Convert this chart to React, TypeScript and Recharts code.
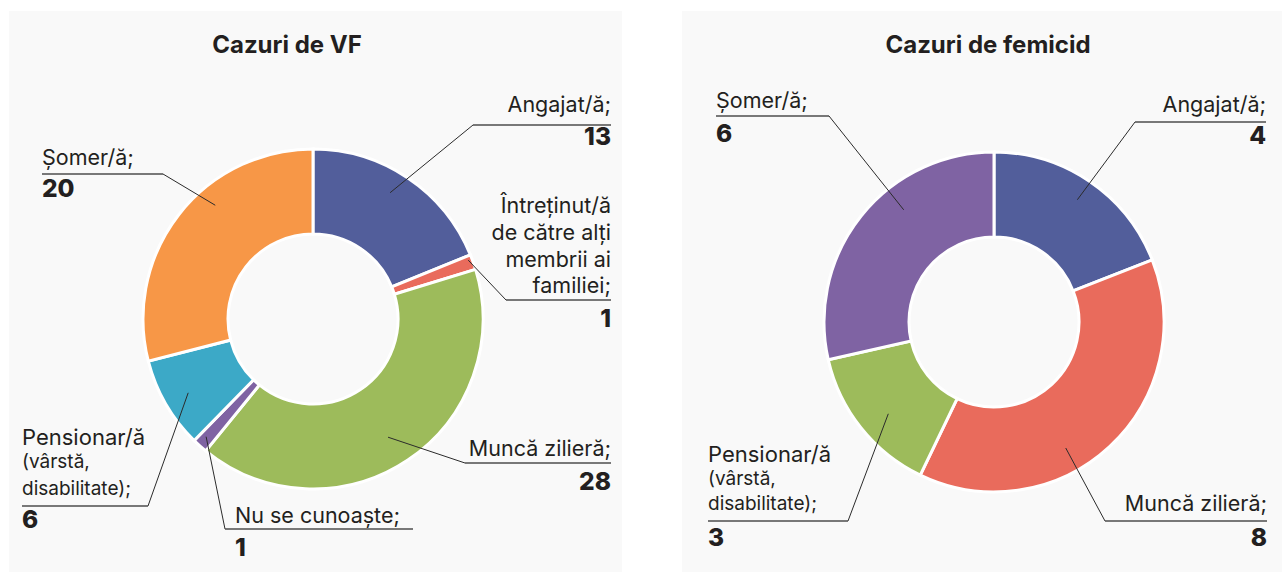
import React from 'react';
import { PieChart, Pie, Cell } from 'recharts';

// ---------- data ----------
const vfCategories = [
  'Angajat/ă',
  'Întreținut/ă de către alți membrii ai familiei',
  'Muncă zilieră',
  'Nu se cunoaște',
  'Pensionar/ă (vârstă, disabilitate)',
  'Șomer/ă',
];
const vfValues = [13, 1, 28, 1, 6, 20];
const vfLabelText = [
  ['Angajat/ă;'],
  ['Întreținut/ă', 'de către alți', 'membrii ai', 'familiei;'],
  ['Muncă zilieră;'],
  ['Nu se cunoaște;'],
  ['Pensionar/ă', '(vârstă,', 'disabilitate);'],
  ['Șomer/ă;'],
];

const femCategories = [
  'Angajat/ă',
  'Muncă zilieră',
  'Pensionar/ă (vârstă, disabilitate)',
  'Șomer/ă',
];
const femValues = [4, 8, 3, 6];
const femLabelText = [
  ['Angajat/ă;'],
  ['Muncă zilieră;'],
  ['Pensionar/ă', '(vârstă,', 'disabilitate);'],
  ['Șomer/ă;'],
];

const titles = ['Cazuri de VF', 'Cazuri de femicid'];

// ---------- styles ----------
const vfColors = ['#525e9b', '#e96b5c', '#9dbb5b', '#7f63a3', '#3ca9c7', '#f79747'];
const femColors = ['#525e9b', '#e96b5c', '#9dbb5b', '#7f63a3'];
const FONT = 'Inter, "Noto Sans", sans-serif';
const TEXT = '#231f20';

type Layout = {
  dA: number; r: number; ex: number; ey: number; ux: number; tx: number;
  anchor: 'start' | 'end'; dys: number[]; sizes: number[]; vdy: number;
};

const vfLayout: Layout[] = [
  { dA: -2.5, r: 148, ex: 160, ey: -194, ux: 298, tx: 298, anchor: 'end', dys: [-13], sizes: [21.5], vdy: 20 },
  { dA: -1.2, r: 166, ex: 193, ey: -19, ux: 298, tx: 298, anchor: 'end', dys: [-87, -60, -33, -7], sizes: [21.5, 21.5, 21.5, 21.5], vdy: 27 },
  { dA: 1.5, r: 140, ex: 152, ey: 144, ux: 298, tx: 298, anchor: 'end', dys: [-7], sizes: [21.5], vdy: 27 },
  { dA: 0.5, r: 159, ex: -88, ey: 210, ux: 100, tx: -78, anchor: 'start', dys: [-6], sizes: [21.5], vdy: 27 },
  { dA: -0.6, r: 145, ex: -165, ey: 187, ux: -291, tx: -291, anchor: 'start', dys: [-61, -38, -11], sizes: [22, 19, 19], vdy: 22 },
  { dA: 11.5, r: 150, ex: -150, ey: -145, ux: -271, tx: -271, anchor: 'start', dys: [-9], sizes: [21.5], vdy: 23 },
];

const femLayout: Layout[] = [
  { dA: 0, r: 148, ex: 141, ey: -200, ux: 272, tx: 272, anchor: 'end', dys: [-10], sizes: [21.5], vdy: 22 },
  { dA: 13.2, r: 145, ex: 111, ey: 199, ux: 273, tx: 273, anchor: 'end', dys: [-10], sizes: [21.5], vdy: 25 },
  { dA: -2.4, r: 140, ex: -146, ey: 199, ux: -286, tx: -286, anchor: 'start', dys: [-59, -36, -11], sizes: [22, 19, 19], vdy: 25 },
  { dA: 12.6, r: 144, ex: -165, ey: -206, ux: -278, tx: -278, anchor: 'start', dys: [-8], sizes: [21.5], vdy: 26 },
];

const RAD = Math.PI / 180;

function makeLabel(layouts: Layout[], texts: string[][]) {
  return (props: any) => {
    const { cx, cy, midAngle, index, value } = props;
    const L = layouts[index];
    if (!L) return null;
    const ang = (midAngle - L.dA) * RAD;
    const sx = cx + L.r * Math.cos(-ang);
    const sy = cy + L.r * Math.sin(-ang);
    const ex = cx + L.ex;
    const ey = cy + L.ey;
    const ux = cx + L.ux;
    const tx = cx + L.tx;
    return (
      <g key={`lbl-${index}`}>
        <line x1={sx} y1={sy} x2={ex} y2={ey} stroke="#2b2b2b" strokeWidth={1} />
        <line x1={ex} y1={ey} x2={ux} y2={ey} stroke="#4d4d4d" strokeWidth={1.5} />
        {texts[index].map((t, i) => (
          <text key={i} x={tx} y={ey + L.dys[i]} textAnchor={L.anchor} fontFamily={FONT}
            fontSize={L.sizes[i]} fill={TEXT}>{t}</text>
        ))}
        <text x={tx} y={ey + L.vdy} textAnchor={L.anchor} fontFamily={FONT}
          fontSize={24.5} fontWeight={800} fill={TEXT}>{value}</text>
      </g>
    );
  };
}

const vfData = vfCategories.map((name, i) => ({ name, value: vfValues[i] }));
const femData = femCategories.map((name, i) => ({ name, value: femValues[i] }));

const panels = [
  { left: 9, top: 11, width: 613, height: 561, cx: 304, cy: 308, titleX: 278, data: vfData, colors: vfColors, layout: vfLayout, texts: vfLabelText },
  { left: 682, top: 11, width: 600, height: 561, cx: 312, cy: 311, titleX: 306, data: femData, colors: femColors, layout: femLayout, texts: femLabelText },
];

export default function App() {
  return (
    <div style={{ position: 'absolute', left: 0, top: 0, width: 1285, height: 572, background: '#ffffff', overflow: 'hidden' }}>
      {panels.map((p, pi) => (
        <div key={pi} style={{ position: 'absolute', left: p.left, top: p.top, width: p.width, height: p.height, background: '#f9f9f9' }}>
          <PieChart width={p.width} height={p.height} margin={{ top: 0, right: 0, bottom: 0, left: 0 }}>
            <Pie
              data={p.data}
              dataKey="value"
              nameKey="name"
              cx={p.cx}
              cy={p.cy}
              innerRadius={85}
              outerRadius={170}
              startAngle={90}
              endAngle={-270}
              stroke="#ffffff"
              strokeWidth={3}
              isAnimationActive={false}
              labelLine={false}
              label={makeLabel(p.layout, p.texts)}
            >
              {p.data.map((d, i) => (
                <Cell key={d.name} fill={p.colors[i]} />
              ))}
            </Pie>
          </PieChart>
          <svg width={p.width} height={p.height} style={{ position: 'absolute', left: 0, top: 0, pointerEvents: 'none' }}>
            <text x={p.titleX} y={42} textAnchor="middle" fontFamily={FONT} fontSize={24} fontWeight={700} fill={TEXT}>
              {titles[pi]}
            </text>
          </svg>
        </div>
      ))}
    </div>
  );
}
